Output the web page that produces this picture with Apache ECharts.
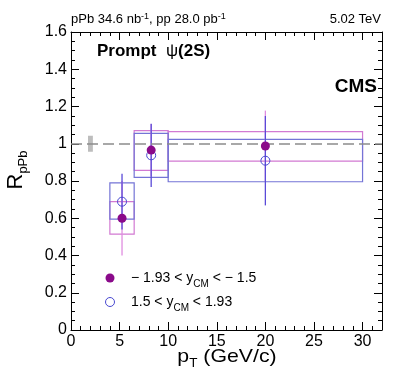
<!DOCTYPE html>
<html>
<head>
<meta charset="utf-8">
<script src="https://cdn.jsdelivr.net/npm/echarts@6/dist/echarts.min.js"></script>
<style>html,body{margin:0;padding:0;background:#fff;}#c{width:399px;height:384px;}</style>
</head>
<body>
<div id="c"></div>
<script>
// ---- data ----
const binLo = [4, 6.5, 10];
const binHi = [6.5, 10, 30];
const ptX = [5.25, 8.25, 20];
const bwdVal = [0.60, 0.966, 0.988];
const bwdStat = [0.20, 0.14, 0.19];
const bwdSystLo = [0.515, 0.857, 0.907];
const bwdSystHi = [0.689, 1.07, 1.065];
const fwdVal = [0.689, 0.938, 0.909];
const fwdStat = [0.15, 0.17, 0.24];
const fwdSystLo = [0.595, 0.82, 0.796];
const fwdSystHi = [0.79, 1.056, 1.024];
const globX = [1.75, 2.25];
const globY = [0.957, 1.043];
const refLine = [1];
const xTicks = [0, 32, 5, 1];     // min, max, major, minor
const yTicks = [0, 1.6, 0.2, 0.05];
const bwdName = 'bwd';
const fwdName = 'fwd';

const FONT = '"Liberation Sans", Arial, Helvetica, sans-serif';
const C_BWD = '#8a0a8a', C_FWD = '#4848d0';
const C_BWD_BOX = '#d27ad2', C_FWD_BOX = '#7474d6';
const C_BWD_ERR = '#e08ce0', C_FWD_ERR = '#5a4ad8';

const chart = echarts.init(document.getElementById('c'), null, {renderer: 'canvas'});

function boxRender(color) {
  return function (params, api) {
    const p1 = api.coord([api.value(0), api.value(3)]);
    const p2 = api.coord([api.value(1), api.value(2)]);
    return {type: 'rect', shape: {x: p1[0], y: p1[1], width: p2[0] - p1[0], height: p2[1] - p1[1]},
      style: {fill: 'none', stroke: color, lineWidth: 1.2}};
  };
}
function fillRender(color) {
  return function (params, api) {
    const p1 = api.coord([api.value(0), api.value(3)]);
    const p2 = api.coord([api.value(1), api.value(2)]);
    return {type: 'rect', shape: {x: p1[0], y: p1[1], width: p2[0] - p1[0], height: p2[1] - p1[1]},
      style: {fill: color}};
  };
}
function errRender(color) {
  return function (params, api) {
    const p1 = api.coord([api.value(0), api.value(1)]);
    const p2 = api.coord([api.value(0), api.value(2)]);
    return {type: 'line', shape: {x1: p1[0], y1: p1[1], x2: p2[0], y2: p2[1]},
      style: {stroke: color, lineWidth: 1.3}};
  };
}

const bwdBoxes = binLo.map((l, i) => [l, binHi[i], bwdSystLo[i], bwdSystHi[i]]);
const fwdBoxes = binLo.map((l, i) => [l, binHi[i], fwdSystLo[i], fwdSystHi[i]]);
const bwdErr = ptX.map((x, i) => [x, bwdVal[i] - bwdStat[i], bwdVal[i] + bwdStat[i]]);
const fwdErr = ptX.map((x, i) => [x, fwdVal[i] - fwdStat[i], fwdVal[i] + fwdStat[i]]);

function mkX(pos, interval, major) {
  return {type: 'value', min: xTicks[0], max: xTicks[1], interval: interval, position: pos,
    axisLine: {show: major, onZero: false, lineStyle: {color: '#000', width: 1}},
    axisTick: {show: true, inside: true, length: major ? 8 : 4, lineStyle: {color: '#000', width: 1}},
    axisLabel: {show: major && pos === 'bottom', showMaxLabel: false, margin: 4, fontSize: 16, color: '#000', fontFamily: FONT},
    splitLine: {show: false}};
}
function mkY(pos, interval, major) {
  return {type: 'value', min: yTicks[0], max: yTicks[1], interval: interval, position: pos,
    axisLine: {show: major, onZero: false, lineStyle: {color: '#000', width: 1}},
    axisTick: {show: true, inside: true, length: major ? 8 : 4, lineStyle: {color: '#000', width: 1}},
    axisLabel: {show: major && pos === 'left', margin: 4, fontSize: 16, color: '#000', fontFamily: FONT},
    splitLine: {show: false}};
}

const subRich = {
  n: {fontSize: 14, fontFamily: FONT, color: '#000', lineHeight: 22},
  s: {fontSize: 10, fontFamily: FONT, color: '#000', lineHeight: 6, verticalAlign: 'bottom'}
};
const legendLabels = {};
legendLabels[bwdName] = '{n|\u2212 1.93 < y}{s|CM}{n| < \u2212 1.5}';
legendLabels[fwdName] = '{n|1.5 < y}{s|CM}{n| < 1.93}';

const option = {
  animation: false,
  grid: {left: 71, top: 32, width: 311, height: 298},
  xAxis: [mkX('bottom', xTicks[2], true), mkX('bottom', xTicks[3], false), mkX('top', xTicks[2], true), mkX('top', xTicks[3], false)],
  yAxis: [mkY('left', yTicks[2], true), mkY('left', yTicks[3], false), mkY('right', yTicks[2], true), mkY('right', yTicks[3], false)],
  legend: {
    orient: 'vertical', left: 105, top: 271, padding: 0, itemGap: 6,
    itemWidth: 32, itemHeight: 9,
    data: [
      {name: bwdName, icon: 'circle', itemStyle: {color: C_BWD, borderWidth: 0}},
      {name: fwdName, icon: 'circle', itemStyle: {color: '#fff', borderColor: C_FWD, borderWidth: 1}}
    ],
    formatter: function (name) { return legendLabels[name]; },
    textStyle: {rich: subRich, fontFamily: FONT, fontSize: 14},
    selectedMode: false
  },
  series: [
    {type: 'custom', name: 'glob', renderItem: fillRender('#bdbdbd'), data: [[globX[0], globX[1], globY[0], globY[1]]],
      encode: {x: [0, 1], y: [2, 3]}, z: 1, silent: true,
      markLine: {silent: true, symbol: 'none', label: {show: false},
        lineStyle: {color: '#8c8c8c', type: [11, 5], width: 1.5},
        data: refLine.map(v => ({yAxis: v}))}},
    {type: 'custom', name: 'bwdBox', renderItem: boxRender(C_BWD_BOX), data: bwdBoxes, encode: {x: [0, 1], y: [2, 3]}, z: 2, silent: true},
    {type: 'custom', name: 'fwdBox', renderItem: boxRender(C_FWD_BOX), data: fwdBoxes, encode: {x: [0, 1], y: [2, 3]}, z: 2, silent: true},
    {type: 'custom', name: 'bwdErr', renderItem: errRender(C_BWD_ERR), data: bwdErr, encode: {x: 0, y: [1, 2]}, z: 3, silent: true},
    {type: 'custom', name: 'fwdErr', renderItem: errRender(C_FWD_ERR), data: fwdErr, encode: {x: 0, y: [1, 2]}, z: 3, silent: true},
    {type: 'scatter', name: bwdName, symbol: 'circle', symbolSize: 9, z: 6,
      itemStyle: {color: C_BWD, opacity: 1},
      data: ptX.map((x, i) => [x, bwdVal[i]])},
    {type: 'scatter', name: fwdName, symbol: 'circle', symbolSize: 9, z: 5,
      itemStyle: {color: 'rgba(255,255,255,0)', borderColor: C_FWD, borderWidth: 1, opacity: 1},
      data: ptX.map((x, i) => [x, fwdVal[i]])}
  ],
  graphic: [
    {type: 'text', x: 71, y: 19, style: {text: 'pPb 34.6 nb{p|-1}, pp 28.0 pb{p|-1}', fill: '#000', font: '13px ' + FONT,
      verticalAlign: 'middle', align: 'left',
      rich: {p: {fontSize: 9, fontFamily: FONT, lineHeight: 12, verticalAlign: 'top'}}}},
    {type: 'text', x: 381, y: 19, style: {text: '5.02 TeV', fill: '#000', font: '13px ' + FONT, align: 'right', verticalAlign: 'middle'}},
    {type: 'text', x: 97, y: 51, style: {text: '{b|Prompt  }{g|\u03c8}{b|(2S)}', align: 'left', verticalAlign: 'middle',
      rich: {b: {fontSize: 17, fontWeight: 'bold', fontFamily: FONT, fill: '#000'}, g: {fontSize: 17, fontFamily: FONT, fill: '#000'}}}},
    {type: 'text', x: 377, y: 87, style: {text: 'CMS', fill: '#000', font: 'bold 19px ' + FONT, align: 'right', verticalAlign: 'middle'}},
    {type: 'text', x: 227, y: 357, scaleX: 1.12, style: {text: '{n|p}{s|T}{n| (GeV/c)}', align: 'center', verticalAlign: 'middle',
      rich: {n: {fontSize: 19, fontFamily: FONT, fill: '#000', lineHeight: 26}, s: {fontSize: 12, fontFamily: FONT, fill: '#000', lineHeight: 8, verticalAlign: 'bottom'}}}},
    {type: 'text', x: 16, y: 170, rotation: Math.PI / 2, style: {text: '{n|R}{s|pPb}', align: 'center', verticalAlign: 'middle',
      rich: {n: {fontSize: 22, fontFamily: FONT, fill: '#000', lineHeight: 28}, s: {fontSize: 13, fontFamily: FONT, fill: '#000', lineHeight: 8, verticalAlign: 'bottom'}}}}
  ]
};
chart.setOption(option);
</script>
</body>
</html>
